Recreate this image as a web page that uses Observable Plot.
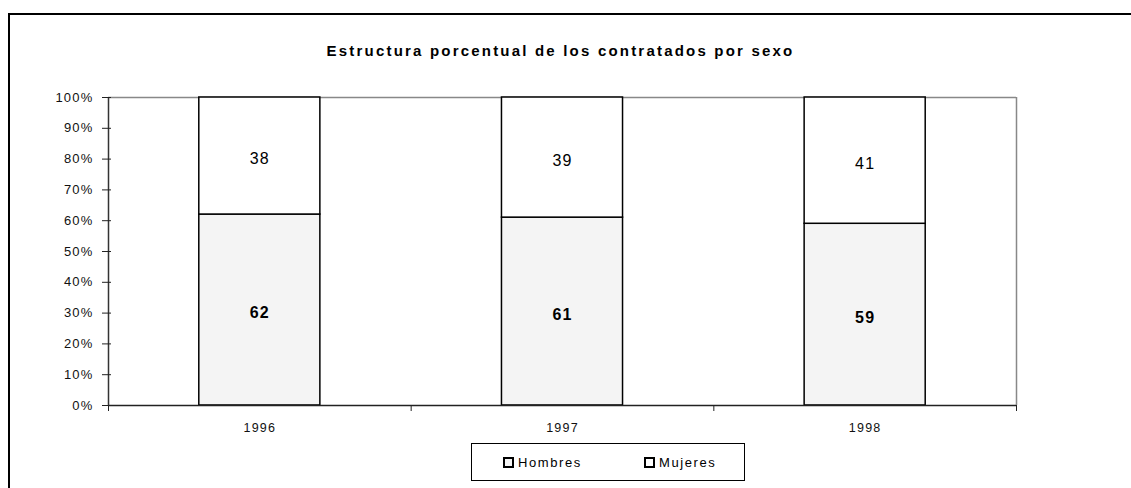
<!DOCTYPE html>
<html><head><meta charset="utf-8">
<script src="https://cdn.jsdelivr.net/npm/d3@7"></script>
<script src="https://cdn.jsdelivr.net/npm/@observablehq/plot@0.6"></script>
<style>
body{margin:0;background:#fff;font-family:"Liberation Sans",Arial,sans-serif;}
#wrap{position:relative;width:1131px;height:488px;overflow:hidden;background:#fff;}
#frame{position:absolute;left:8px;top:13px;width:1300px;height:700px;border-left:2px solid #000;border-top:2px solid #000;}
#title{position:absolute;left:-5px;width:1131px;top:42px;text-align:center;font-weight:bold;font-size:15px;letter-spacing:2.2px;color:#000;}
#chart{position:absolute;left:0;top:0;}
#chart svg text{letter-spacing:1.2px;}
#legend{position:absolute;left:471px;top:443px;width:274px;height:38px;border:1px solid #000;box-sizing:border-box;font-size:13px;letter-spacing:1.6px;color:#000;}
.item{position:absolute;top:11px;display:flex;align-items:center;}
.sw{width:7px;height:7px;border:2px solid #000;margin-right:4px;box-sizing:content-box;}
</style>
</head><body>
<div id="wrap">
  <div id="frame"></div>
  <div id="chart"></div>
  <div id="title"></div>
  <div id="legend"></div>
</div>
<script>
const titleText = "Estructura porcentual de los contratados por sexo";
const years = ["1996", "1997", "1998"];
const series = ["Hombres", "Mujeres"];
const hombres = [62, 61, 59];
const mujeres = [38, 39, 41];
const yTicks = [0, 10, 20, 30, 40, 50, 60, 70, 80, 90, 100];
const fills = ["#f4f4f4", "#ffffff"];

document.getElementById("title").textContent = titleText;

const data = years.flatMap((yr, i) => [
  {year: yr, i, sexo: series[0], v: hombres[i]},
  {year: yr, i, sexo: series[1], v: mujeres[i]}
]);

const chart = Plot.plot({
  width: 1131,
  height: 488,
  marginLeft: 108,
  marginRight: 115,
  marginTop: 97,
  marginBottom: 83,
  style: {fontFamily: "'Liberation Sans', Arial, sans-serif", fontSize: "12px", color: "#000", background: "transparent"},
  x: {type: "linear", domain: [0, years.length], axis: null},
  y: {domain: [0, 100], axis: null},
  color: {domain: series, range: fills},
  marks: [
    Plot.ruleY([100], {stroke: "#888", strokeWidth: 1.5}),
    Plot.ruleX([years.length], {y1: 0, y2: 100, stroke: "#888", strokeWidth: 1.5}),
    Plot.rectY(data, {
      x1: d => d.i + 0.3, x2: d => d.i + 0.7, y: "v",
      fill: "sexo", stroke: "#000", strokeWidth: 1.5
    }),
    Plot.ruleY([0], {stroke: "#222", strokeWidth: 1.5}),
    Plot.ruleX([0], {y1: 0, y2: 100, stroke: "#333", strokeWidth: 1.5}),
    Plot.axisY({ticks: yTicks, tickFormat: d => d + "%", tickSize: 9, dx: 3, tickPadding: 9, fontSize: 13, stroke: "#222", fill: "#111", label: null}),
    Plot.axisX({ticks: d3.range(years.length + 1), tickFormat: () => "", tickSize: 6, stroke: "#222", label: null}),
    Plot.axisX({ticks: years.map((_, i) => i + 0.5), tickFormat: d => years[Math.floor(d)], tickSize: 0, tickPadding: 18, fontSize: 12.5, fill: "#111", label: null}),
    Plot.text(data, Plot.stackY({
      x: d => d.i + 0.5, y: "v",
      text: d => d.sexo === series[0] ? String(d.v) : "",
      fontSize: 16, fontWeight: "bold", fill: "#000", dy: 3
    })),
    Plot.text(data, Plot.stackY({
      x: d => d.i + 0.5, y: "v",
      text: d => d.sexo === series[1] ? String(d.v) : "",
      fontSize: 16, fill: "#000", dy: 3
    }))
  ]
});
document.getElementById("chart").appendChild(chart);

const legend = document.getElementById("legend");
const lx = [31, 172];
series.forEach((s, k) => {
  const it = document.createElement("div");
  it.className = "item";
  it.style.left = lx[k] + "px";
  const sw = document.createElement("div");
  sw.className = "sw";
  sw.style.background = fills[k];
  const t = document.createElement("span");
  t.textContent = s;
  it.appendChild(sw); it.appendChild(t);
  legend.appendChild(it);
});
</script>
</body></html>
